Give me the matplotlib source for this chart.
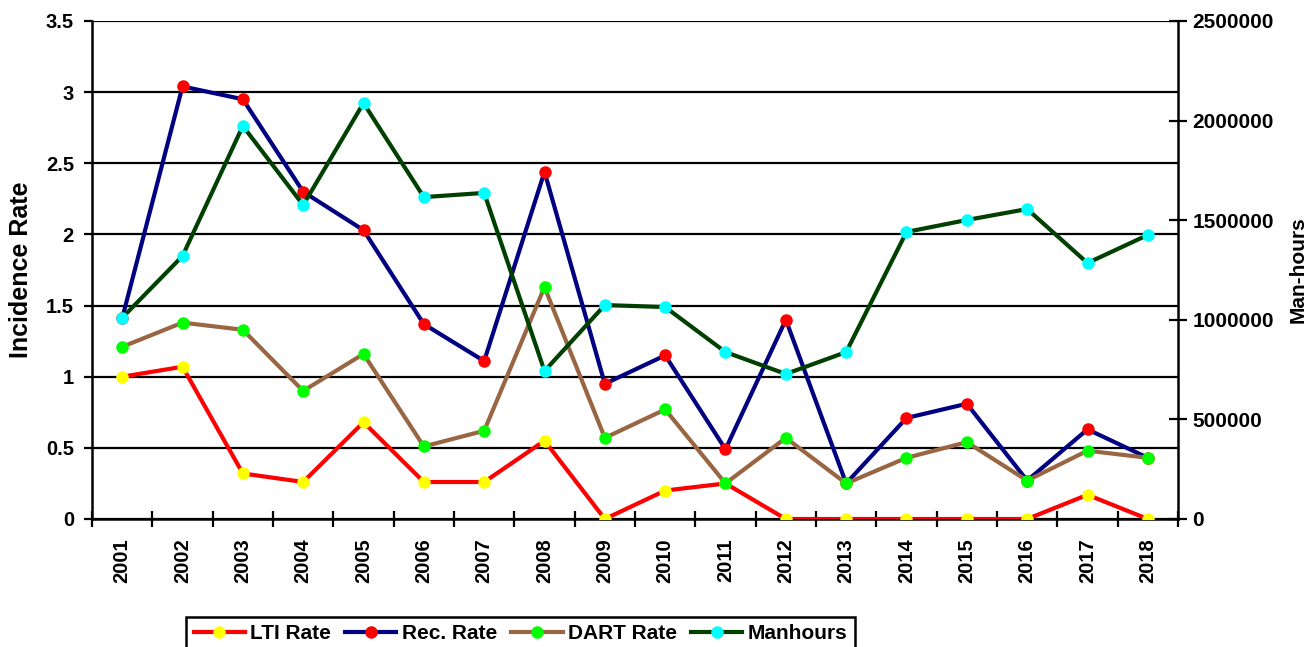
import matplotlib
matplotlib.use("Agg")
import matplotlib.pyplot as plt
import numpy as np
from matplotlib.ticker import FixedLocator, NullFormatter

plt.rcParams['font.family'] = ['Liberation Sans', 'DejaVu Sans']
plt.rcParams['font.weight'] = 'bold'

years = ['2001', '2002', '2003', '2004', '2005', '2006', '2007', '2008', '2009',
         '2010', '2011', '2012', '2013', '2014', '2015', '2016', '2017', '2018']
lti_rate = [1.00, 1.07, 0.32, 0.26, 0.68, 0.26, 0.26, 0.55, 0.00,
            0.20, 0.25, 0.00, 0.00, 0.00, 0.00, 0.00, 0.17, 0.00]
rec_rate = [1.41, 3.04, 2.95, 2.30, 2.03, 1.37, 1.11, 2.44, 0.95,
            1.15, 0.49, 1.40, 0.25, 0.71, 0.81, 0.27, 0.63, 0.43]
dart_rate = [1.21, 1.38, 1.33, 0.90, 1.16, 0.51, 0.62, 1.63, 0.57,
             0.77, 0.25, 0.57, 0.25, 0.43, 0.54, 0.27, 0.48, 0.43]
manhours = [1010000, 1320000, 1973000, 1576000, 2088000, 1616000, 1637000, 743000, 1074000,
            1064000, 838000, 728000, 838000, 1441000, 1501000, 1556000, 1285000, 1426000]

left_ticks = [0, 0.5, 1, 1.5, 2, 2.5, 3, 3.5]
right_ticks = [0, 500000, 1000000, 1500000, 2000000, 2500000]

fig = plt.figure(figsize=(13.16, 6.47), dpi=100)
ax = fig.add_axes([92/1316, 1-519/647, (1178-92)/1316, (519-21)/647])

x = np.arange(len(years))
lw = 3.0
ms = 8
l1, = ax.plot(x, lti_rate, color='#FF0000', lw=lw, marker='o', ms=ms,
              mfc='#FFFF00', mec='#FFFF00', label='LTI Rate', zorder=3)
l2, = ax.plot(x, rec_rate, color='#000080', lw=lw, marker='o', ms=ms,
              mfc='#FF0000', mec='#FF0000', label='Rec. Rate', zorder=4)
l3, = ax.plot(x, dart_rate, color='#996644', lw=lw, marker='o', ms=ms,
              mfc='#00FF00', mec='#00FF00', label='DART Rate', zorder=5)

ax.set_ylim(0, 3.5)
ax.set_xlim(-0.5, len(years) - 0.5)
ax.set_yticks(left_ticks)
ax.set_yticklabels(['0', '0.5', '1', '1.5', '2', '2.5', '3', '3.5'])
ax.yaxis.grid(True, color='black', lw=1.6)
ax.set_axisbelow(True)
ax.tick_params(axis='y', direction='out', length=6, width=1.6, labelsize=14.5, pad=7)

ax.xaxis.set_major_locator(FixedLocator(np.arange(-0.5, len(years), 1)))
ax.xaxis.set_major_formatter(NullFormatter())
ax.set_xticks(x, minor=True)
ax.set_xticklabels(years, minor=True, rotation=90)
ax.tick_params(axis='x', which='major', direction='inout', length=12, width=1.6)
ax.tick_params(axis='x', which='minor', length=0, labelsize=14.5, pad=14)

for s in ['top', 'right']:
    ax.spines[s].set_visible(False)
for s in ['left', 'bottom']:
    ax.spines[s].set_linewidth(1.8)
    ax.spines[s].set_color('black')

ax.set_ylabel('Incidence Rate', fontsize=18, fontweight='bold')
ax.yaxis.set_label_coords((33-92)/1086, 0.5)

ax2 = ax.twinx()
l4, = ax2.plot(x, manhours, color='#004000', lw=lw, marker='o', ms=ms,
               mfc='#00FFFF', mec='#00FFFF', label='Manhours', zorder=6)
ax2.set_ylim(0, 2500000)
ax2.set_yticks(right_ticks)
ax2.set_yticklabels([str(t) for t in right_ticks])
ax2.tick_params(axis='y', direction='inout', length=13, width=1.6, labelsize=15, pad=4)
for s in ['top', 'left', 'bottom']:
    ax2.spines[s].set_visible(False)
ax2.spines['right'].set_linewidth(1.8)
ax2.set_ylabel('Man-hours', fontsize=15, fontweight='bold', rotation=90)
ax2.yaxis.set_label_coords((1289-92)/1086, 0.5)

leg = fig.legend([l1, l2, l3, l4], ['LTI Rate', 'Rec. Rate', 'DART Rate', 'Manhours'],
                 loc='upper center', bbox_to_anchor=(520.5/1316, 1-617/647), ncol=4,
                 frameon=True, fancybox=False, edgecolor='black', framealpha=1,
                 prop={'weight': 'bold', 'size': 15}, handlelength=2.45,
                 handletextpad=0.25, columnspacing=0.7, borderpad=0.35,
                 borderaxespad=0, markerscale=1.0)
leg.get_frame().set_linewidth(1.8)

fig.savefig('out.png', dpi=100)
